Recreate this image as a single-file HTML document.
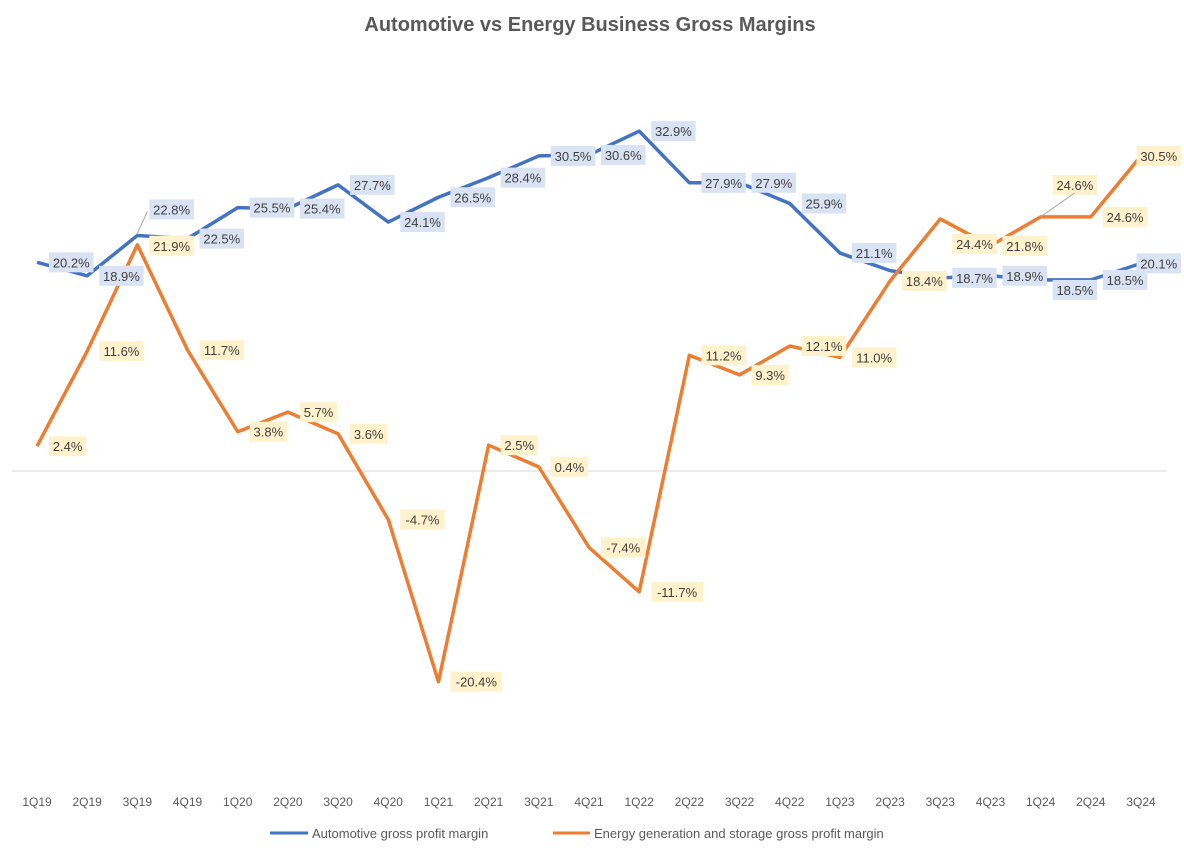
<!DOCTYPE html>
<html><head><meta charset="utf-8"><style>
body{margin:0;background:#fff;}
svg text{font-family:"Liberation Sans",Arial,sans-serif;}
</style></head><body>
<svg id="chart" width="1184" height="849" xmlns="http://www.w3.org/2000/svg">
<rect width="1184" height="849" fill="#fff"/>
<text x="590" y="31" text-anchor="middle" font-size="20" font-weight="bold" fill="#595959">Automotive vs Energy Business Gross Margins</text>
<line x1="12" y1="471" x2="1166" y2="471" stroke="#d9d9d9" stroke-width="1"/>
<g id="xaxis"></g>
<g id="lines"></g>
<g id="labels"></g>
<g>
<line x1="270" y1="833" x2="308" y2="833" stroke="#4472c4" stroke-width="3"/>
<text x="312" y="838" font-size="13" fill="#595959">Automotive gross profit margin</text>
<line x1="553" y1="833" x2="590" y2="833" stroke="#ed7d31" stroke-width="3"/>
<text x="594" y="838" font-size="13" fill="#595959">Energy generation and storage gross profit margin</text>
</g>
</svg>
<script>
const categories=["1Q19","2Q19","3Q19","4Q19","1Q20","2Q20","3Q20","4Q20","1Q21","2Q21","3Q21","4Q21","1Q22","2Q22","3Q22","4Q22","1Q23","2Q23","3Q23","4Q23","1Q24","2Q24","3Q24"];
const autoMargin=[20.2,18.9,22.8,22.5,25.5,25.4,27.7,24.1,26.5,28.4,30.5,30.6,32.9,27.9,27.9,25.9,21.1,19.4,18.7,18.9,18.5,18.5,20.1];
const energyMargin=[2.4,11.6,21.9,11.7,3.8,5.7,3.6,-4.7,-20.4,2.5,0.4,-7.4,-11.7,11.2,9.3,12.1,11.0,18.4,24.4,21.8,24.6,24.6,30.5];
const autoLabelShown=[1,1,1,1,1,1,1,1,1,1,1,1,1,1,1,1,1,0,1,1,1,1,1];
const NS="http://www.w3.org/2000/svg";
const x=i=>37+i*(1141-37)/(categories.length-1);
const y=v=>471-v*10.33;
function mk(tag,attrs,parent){const e=document.createElementNS(NS,tag);for(const k in attrs)e.setAttribute(k,attrs[k]);parent.appendChild(e);return e;}
const xa=document.getElementById('xaxis');
categories.forEach((c,i)=>{const t=mk('text',{x:x(i),y:806,'text-anchor':'middle','font-size':'12',fill:'#595959'},xa);


t.textContent=c;});
const lg=document.getElementById('lines');
function line(vals,color,name){const p=mk('polyline',{points:vals.map((v,i)=>x(i)+','+y(v)).join(' '),fill:'none',stroke:color,'stroke-width':'3.5','stroke-linejoin':'round'},lg);

}
line(autoMargin,'#4472c4','automotive-line');
line(energyMargin,'#ed7d31','energy-line');
const lb=document.getElementById('labels');
function label(v,i,bg,name,dy){const txt=v.toFixed(1)+'%';const w=txt.length*7.3+8;let lx=x(i)+12;if(lx+w>1181)lx=1181-w;const ly=y(v)+dy;
const g=mk('g',{},lb);


mk('rect',{x:lx,y:ly-10,width:w,height:20,fill:bg},g);
const t=mk('text',{x:lx+w/2,y:ly+5,'text-anchor':'middle','font-size':'13',fill:'#404040'},g);t.textContent=txt;}
autoMargin.forEach((v,i)=>{if(!autoLabelShown[i])return;let dy=0;if(i===2)dy=-26;if(i===20)dy=10;label(v,i,'#dae3f3','automotive-data-label',dy);});
energyMargin.forEach((v,i)=>{let dy=0;if(i===18)dy=25;if(i===20)dy=-32;if(i===2)dy=1;label(v,i,'#fff2cc','energy-data-label',dy);});
mk('line',{x1:x(2),y1:y(autoMargin[2])-2,x2:x(2)+10,y2:y(autoMargin[2])-24,stroke:'#a6a6a6','stroke-width':1},lb);
mk('line',{x1:x(20),y1:y(energyMargin[20]),x2:x(20)+34,y2:y(energyMargin[20])-24,stroke:'#a6a6a6','stroke-width':1},lb);
</script>
</body></html>
